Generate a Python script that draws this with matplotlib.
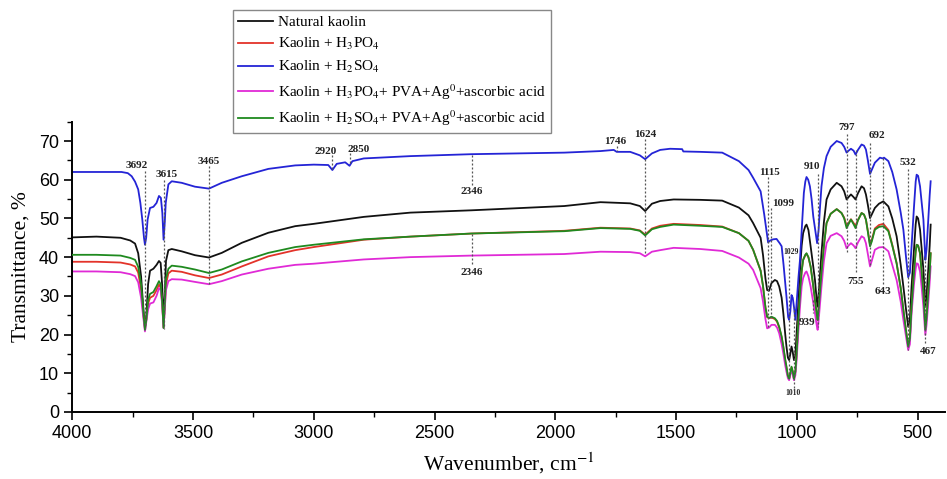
import numpy as np
import matplotlib
matplotlib.use('Agg')
import matplotlib.pyplot as plt

plt.rcParams['font.family'] = ['Liberation Serif', 'DejaVu Serif']
plt.rcParams['mathtext.fontset'] = 'stix'

# shared wavenumber grid for natural kaolin, H3PO4, H2SO4+PVA and H3PO4+PVA samples
wn = [4000, 3900, 3800, 3760, 3740, 3727, 3715, 3706, 3699, 3693,
      3686, 3678, 3664, 3651, 3641, 3634, 3628, 3622, 3617, 3612,
      3602, 3588, 3547, 3492, 3434, 3381, 3298, 3188, 3077, 3000,
      2793, 2600, 2346, 1963, 1813, 1690, 1650, 1628, 1600, 1566,
      1510, 1400, 1309, 1240, 1200, 1181, 1150, 1140, 1130, 1123,
      1115, 1105, 1091, 1082, 1073, 1063, 1056, 1048, 1043, 1037,
      1032, 1027, 1022, 1017, 1012, 1006, 1001, 994, 987, 980,
      974, 965, 960, 952, 943, 934, 925, 918, 914, 908,
      898, 888, 877, 860, 835, 815, 804, 794, 786, 776,
      765, 757, 747, 732, 722, 714, 706, 697, 690, 677,
      660, 642, 621, 605, 587, 570, 559, 548, 539, 532,
      525, 515, 508, 504, 498, 490, 483, 476, 471, 468,
      463, 456, 450, 446]

natural = [45.1, 45.3, 45.0, 44.3, 43.5, 41.0, 35.0, 27.0, 22.0, 25.0,
           33.0, 36.5, 37.0, 38.0, 39.0, 38.5, 33.0, 23.5, 30.0, 39.0,
           41.8, 42.1, 41.5, 40.5, 39.9, 41.1, 43.7, 46.3, 48.0, 48.6,
           50.4, 51.5, 52.1, 53.2, 54.2, 53.9, 53.2, 51.9, 53.8, 54.5,
           54.9, 54.8, 54.6, 52.8, 50.8, 48.8, 45.0, 40.5, 34.5, 31.5,
           31.3, 33.3, 34.1, 33.8, 32.4, 29.5, 25.5, 20.0, 16.9, 14.0,
           13.4, 15.0, 16.9, 15.5, 13.4, 15.0, 20.3, 28.0, 36.7, 43.0,
           46.2, 48.0, 48.4, 47.0, 42.8, 38.5, 34.1, 29.0, 27.2, 32.0,
           41.0, 49.0, 54.9, 57.5, 59.2, 58.3, 57.0, 54.9, 55.5, 56.2,
           55.5, 54.9, 56.5, 58.3, 57.8, 56.2, 53.5, 50.1, 51.0, 52.7,
           53.8, 54.4, 53.1, 50.0, 45.4, 38.0, 32.4, 26.5, 22.0, 24.0,
           32.4, 42.0, 48.5, 50.5, 50.0, 47.1, 42.0, 36.7, 31.0, 27.2,
           30.0, 36.7, 43.0, 48.4]

h3po4 = [38.8, 38.8, 38.6, 38.1, 37.6, 36.0, 31.5, 25.5, 21.5, 24.0,
         28.0, 29.5, 30.0, 31.5, 32.9, 32.2, 28.5, 21.8, 27.0, 33.0,
         35.8, 36.5, 36.2, 35.3, 34.6, 35.5, 37.6, 40.2, 41.8, 42.6,
         44.5, 45.3, 46.1, 46.8, 47.6, 47.4, 46.9, 45.8, 47.4, 48.1,
         48.6, 48.3, 47.9, 46.2, 44.2, 41.9, 36.5, 32.5, 27.0, 24.5,
         24.2, 24.4, 24.0, 23.3, 21.8, 19.3, 16.7, 13.3, 11.5, 9.2,
         8.5, 9.9, 11.5, 10.4, 8.5, 10.4, 15.0, 22.8, 30.5, 36.3,
         39.2, 40.5, 40.9, 39.9, 37.5, 33.4, 28.9, 25.4, 23.7, 27.9,
         35.8, 42.9, 48.8, 51.2, 52.4, 51.4, 50.2, 48.1, 48.8, 49.8,
         48.8, 48.1, 49.6, 51.4, 51.0, 49.7, 46.8, 43.2, 44.4, 47.4,
         48.3, 48.6, 47.0, 43.2, 38.5, 32.0, 26.4, 21.0, 17.0, 19.0,
         27.2, 36.0, 41.5, 43.2, 43.0, 41.0, 36.0, 30.7, 25.0, 21.3,
         24.5, 30.7, 36.0, 41.0]

h2so4_pva = [40.6, 40.6, 40.4, 39.8, 39.3, 37.5, 33.0, 26.0, 21.2, 24.0,
             29.0, 30.5, 31.0, 32.5, 33.8, 33.0, 29.0, 21.7, 28.0, 34.5,
             37.0, 37.8, 37.5, 36.8, 35.9, 36.8, 38.9, 41.1, 42.6, 43.2,
             44.6, 45.3, 46.1, 46.7, 47.5, 47.3, 46.8, 45.6, 47.2, 47.8,
             48.4, 48.1, 47.8, 46.2, 44.2, 41.9, 36.5, 32.5, 27.0, 24.6,
             24.3, 24.6, 24.2, 23.5, 22.0, 19.5, 16.9, 13.5, 11.7, 9.3,
             8.6, 10.0, 11.7, 10.5, 8.6, 10.5, 15.1, 23.0, 30.7, 36.5,
             39.3, 40.6, 41.0, 40.0, 37.6, 33.5, 29.0, 25.5, 23.8, 28.0,
             35.9, 43.0, 48.8, 51.2, 52.4, 51.4, 50.0, 47.5, 48.5, 49.7,
             48.5, 47.5, 49.5, 51.4, 51.0, 49.7, 46.5, 42.8, 44.0, 47.1,
             47.8, 48.0, 46.7, 43.0, 38.4, 32.0, 26.4, 21.0, 16.9, 19.0,
             27.2, 36.0, 41.5, 43.2, 43.0, 41.0, 36.0, 30.7, 25.0, 21.2,
             24.5, 30.7, 36.0, 41.0]

h3po4_pva = [36.3, 36.3, 36.1, 35.6, 35.1, 33.5, 29.5, 24.5, 20.8, 23.5,
             26.5, 28.0, 28.3, 30.0, 32.0, 31.5, 28.0, 21.7, 26.5, 31.5,
             33.8, 34.3, 34.2, 33.6, 33.0, 33.8, 35.5, 37.0, 38.0, 38.3,
             39.4, 40.0, 40.4, 40.8, 41.4, 41.3, 41.0, 40.2, 41.4, 41.8,
             42.4, 42.1, 41.6, 39.9, 38.3, 36.7, 32.0, 28.5, 24.0, 21.6,
             21.8, 22.5, 22.5, 21.8, 20.3, 17.5, 15.1, 12.0, 10.4, 8.7,
             8.2, 9.5, 10.8, 9.8, 8.2, 9.5, 13.4, 20.5, 27.2, 32.5,
             34.6, 36.0, 36.3, 35.0, 32.4, 29.0, 25.5, 22.5, 21.2, 25.0,
             32.4, 39.0, 43.6, 45.5, 46.2, 45.4, 44.2, 42.3, 43.0, 43.6,
             43.0, 42.3, 43.8, 45.4, 45.0, 43.6, 40.8, 37.6, 39.0, 41.9,
             42.5, 42.6, 41.5, 38.0, 34.1, 28.5, 23.8, 19.5, 16.0, 17.5,
             25.5, 33.0, 37.0, 38.4, 38.2, 36.3, 32.0, 27.2, 22.5, 19.9,
             22.5, 28.1, 33.5, 37.6]

# H2SO4 sample has its own grid (extra C-H bands near 2900)
wn_h2so4 = [4000, 3850, 3796, 3770, 3754, 3740, 3727, 3718, 3710, 3703,
            3699, 3694, 3688, 3678, 3664, 3651, 3641, 3633, 3627, 3622,
            3617, 3613, 3602, 3588, 3547, 3492, 3434, 3381, 3298, 3188,
            3077, 3000, 2940, 2923, 2905, 2870, 2852, 2840, 2793, 2600,
            2346, 1963, 1813, 1758, 1746, 1690, 1650, 1628, 1600, 1566,
            1525, 1475, 1470, 1400, 1309, 1240, 1200, 1181, 1150, 1135,
            1125, 1119, 1110, 1098, 1084, 1070, 1063, 1055, 1043, 1036,
            1032, 1027, 1022, 1017, 1012, 1006, 1000, 993, 987, 979,
            971, 965, 960, 953, 946, 939, 932, 925, 916, 910,
            904, 898, 888, 877, 860, 835, 815, 804, 794, 786,
            776, 765, 757, 747, 732, 722, 714, 706, 697, 690,
            677, 656, 645, 639, 621, 605, 587, 570, 559, 548,
            539, 532, 525, 515, 508, 504, 498, 490, 483, 476,
            471, 468, 463, 456, 450, 446]
h2so4 = [62.0, 62.0, 62.0, 61.7, 60.9, 59.5, 57.5, 54.0, 49.7, 45.0,
         43.2, 45.0, 49.7, 52.7, 53.0, 54.0, 55.8, 55.3, 51.4, 44.5,
         49.0, 54.0, 58.8, 59.6, 59.2, 58.2, 57.7, 59.2, 60.9, 62.8,
         63.7, 63.9, 63.8, 62.5, 64.1, 64.5, 63.6, 64.8, 65.5, 66.1,
         66.6, 67.0, 67.4, 67.7, 67.2, 67.2, 66.3, 65.3, 66.8, 67.7,
         68.0, 67.9, 67.3, 67.2, 67.0, 64.8, 62.5, 60.5, 57.0, 51.0,
         46.5, 43.8, 44.3, 44.6, 44.7, 43.5, 42.8, 38.0, 29.8, 24.5,
         23.8, 26.0, 30.2, 29.5, 27.2, 23.8, 29.0, 35.0, 39.3, 48.0,
         56.6, 59.5, 60.7, 60.0, 58.3, 55.0, 50.5, 47.5, 43.6, 47.0,
         53.0, 58.3, 63.0, 66.1, 68.5, 70.0, 69.5, 68.5, 67.0, 67.5,
         68.0, 67.5, 66.5, 67.7, 69.1, 68.8, 67.8, 65.0, 61.5, 62.5,
         64.4, 65.7, 65.5, 65.7, 64.8, 62.0, 57.5, 51.5, 47.1, 40.0,
         34.8, 36.0, 42.8, 53.0, 59.5, 61.3, 61.0, 58.3, 54.0, 49.7,
         43.0, 39.3, 42.0, 49.7, 56.0, 59.6]

labels = ['Natural kaolin',
          'Kaolin + H$_3$PO$_4$',
          'Kaolin + H$_2$SO$_4$',
          'Kaolin + H$_3$PO$_4$+ PVA+Ag$^0$+ascorbic acid',
          'Kaolin + H$_2$SO$_4$+ PVA+Ag$^0$+ascorbic acid']
colors = ['#111111', '#e3332a', '#2424d6', '#e02ad6', '#1f8a1f']

# band labels: text, text x, text y, line x, line from, line to, font size
bands = [('3692', 3733, 63.7, 3699, 62.2, 21.0, 8),
         ('3615', 3611, 61.4, 3620, 59.8, 21.5, 8),
         ('3465', 3434, 64.8, 3434, 63.6, 32.5, 8),
         ('2920', 2953, 67.4, 2923, 66.5, 62.8, 8),
         ('2850', 2814, 67.9, 2850, 66.9, 63.8, 8),
         ('2346', 2346, 57.0, 2346, 66.4, 58.6, 8),
         ('2346', 2346, 36.0, 2346, 46.0, 37.6, 8),
         ('1746', 1752, 69.8, 1746, 68.8, 67.5, 8),
         ('1624', 1628, 71.8, 1628, 70.6, 40.5, 8),
         ('1115', 1112, 61.9, 1118, 60.6, 22.0, 8),
         ('1099', 1056, 53.8, 1105, 52.8, 23.8, 8),
         ('1029', 1024, 41.2, 1032, 40.2, 9.0, 5.5),
         ('1010', 1015, 5.0, 1011, 6.3, 27.0, 5.5),
         ('939', 958, 23.1, 935, 29.0, 25.5, 8),
         ('910', 936, 63.5, 914, 61.6, 22.0, 8),
         ('797', 794, 73.4, 794, 71.8, 41.0, 8),
         ('755', 755, 33.7, 755, 67.6, 35.7, 8),
         ('692', 670, 71.3, 697, 69.6, 37.6, 8),
         ('643', 642, 31.1, 642, 65.6, 33.0, 8),
         ('532', 539, 64.4, 539, 62.8, 16.0, 8),
         ('467', 456, 15.6, 468, 40.0, 17.5, 8)]

fig = plt.figure(figsize=(9.47, 4.79), dpi=100)
ax = fig.add_axes([0.0763, 0.140, 0.922, 0.606])

series = [(wn, natural), (wn, h3po4), (wn_h2so4, h2so4), (wn, h3po4_pva), (wn, h2so4_pva)]
order = [0, 1, 2, 3, 4]
handles = [None] * 5
for i, (x, y) in enumerate(series):
    # green sample is drawn last so it sits on top of the red one
    z = 3 if i == 4 else 2
    handles[i], = ax.plot(x, y, color=colors[i], lw=1.3, label=labels[i], zorder=z)

for txt, tx, ty, lx, y0, y1, fs in bands:
    ax.plot([lx, lx], [y0, y1], color='#555555', lw=0.9, ls=(0, (1.6, 1.6)), zorder=4)
    ax.text(tx, ty, txt, fontsize=fs, fontweight='bold', ha='center', va='center',
            color='#222222', zorder=5)

ax.set_xlim(4000, 385)
ax.set_ylim(0, 75)
ax.set_xticks([4000, 3500, 3000, 2500, 2000, 1500, 1000, 500])
ax.set_xticks(np.arange(3750, 400, -500), minor=True)
ax.set_yticks(np.arange(0, 71, 10))
ax.set_yticks(np.arange(5, 76, 10), minor=True)
for lab in ax.get_xticklabels() + ax.get_yticklabels():
    lab.set_fontfamily('Liberation Sans')
    lab.set_fontsize(13)
ax.tick_params(which='major', direction='out', length=6, width=1.2)
ax.tick_params(which='minor', direction='out', length=3.5, width=1.0)
ax.spines['top'].set_visible(False)
ax.spines['right'].set_visible(False)
ax.spines['left'].set_linewidth(1.4)
ax.spines['bottom'].set_linewidth(1.4)

ax.set_xlabel('Wavenumber, cm$^{-1}$', fontsize=15.5, labelpad=6)
ax.set_ylabel('Transmittance, %', fontsize=15.5, labelpad=6)

leg = fig.legend(handles=handles, labels=labels, loc='upper left',
                 bbox_to_anchor=(0.246, 0.979), fontsize=11, frameon=True,
                 fancybox=False, edgecolor='#888888', framealpha=1,
                 handlelength=2.3, handletextpad=0.3, labelspacing=0.45,
                 borderpad=0.35, borderaxespad=0)
leg.get_frame().set_linewidth(1.0)

fig.savefig('out.png', dpi=100)
